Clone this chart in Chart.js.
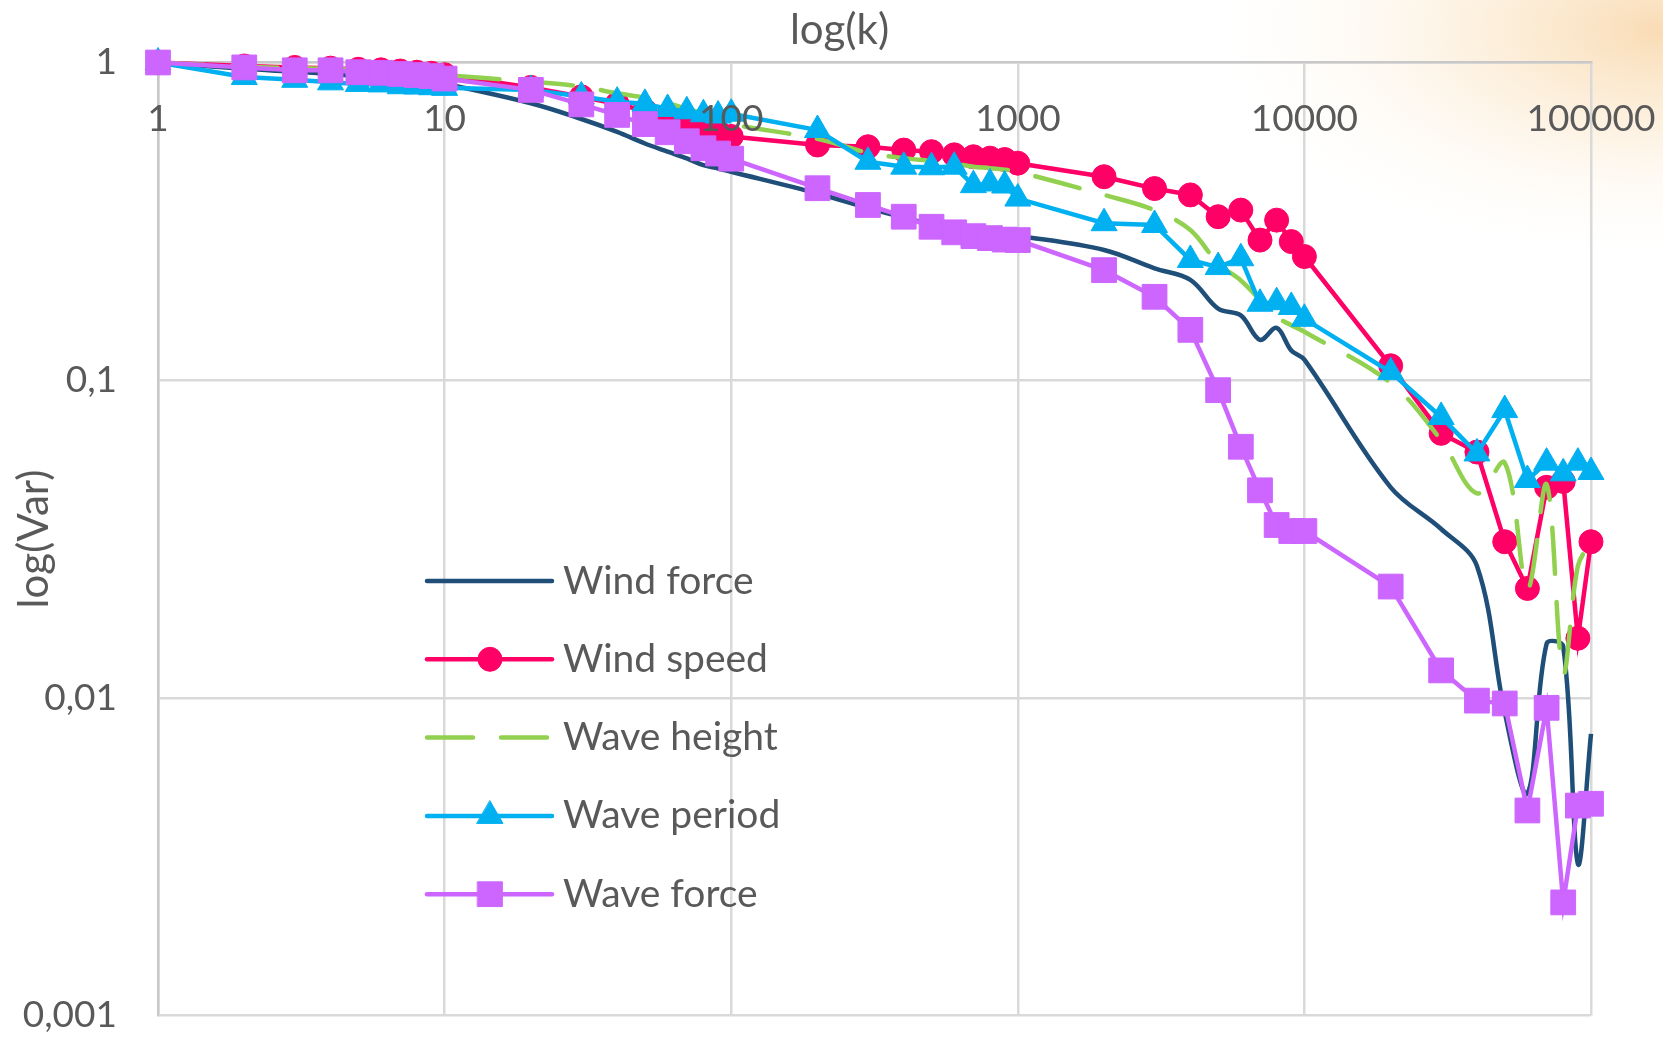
<!DOCTYPE html>
<html>
<head>
<meta charset="utf-8">
<title>log(Var) vs log(k)</title>
<script src="https://cdn.jsdelivr.net/npm/chart.js@4.4.1/dist/chart.umd.min.js"></script>
<style>
  html, body { margin: 0; padding: 0; background: #fff; }
  #wrap { position: relative; width: 1663px; height: 1037px; }
</style>
</head>
<body>
<div id="wrap"><canvas id="varChart" width="1663" height="1037"></canvas></div>
<script>
const kValues = [1, 2, 3, 4, 5, 6, 7, 8, 9, 10,
  20, 30, 40, 50, 60, 70, 80, 90, 100,
  200, 300, 400, 500, 600, 700, 800, 900, 1000,
  2000, 3000, 4000, 5000, 6000, 7000, 8000, 9000, 10000,
  20000, 30000, 40000, 50000, 60000, 70000, 80000, 90000, 100000];

const windForce = [1.0, 0.955, 0.935, 0.92, 0.905, 0.895, 0.885, 0.875, 0.865, 0.857,
  0.744, 0.664, 0.605, 0.556, 0.524, 0.499, 0.475, 0.464, 0.453,
  0.387, 0.348, 0.325, 0.31, 0.3, 0.295, 0.29, 0.288, 0.285,
  0.257, 0.225, 0.207, 0.168, 0.16, 0.134, 0.146, 0.124, 0.116,
  0.046, 0.034, 0.026, 0.009, 0.005, 0.0148, 0.0145, 0.003, 0.0077];

const windSpeed = [1.0, 0.975, 0.965, 0.96, 0.952, 0.948, 0.94, 0.932, 0.925, 0.915,
  0.835, 0.78, 0.74, 0.705, 0.675, 0.65, 0.625, 0.605, 0.585,
  0.55, 0.543, 0.53, 0.524, 0.512, 0.505, 0.5, 0.495, 0.482,
  0.437, 0.401, 0.383, 0.327, 0.343, 0.276, 0.319, 0.273, 0.245,
  0.111, 0.068, 0.0594, 0.031, 0.0221, 0.046, 0.048, 0.0154, 0.031];

const waveHeight = [1.0, 0.97, 0.96, 0.955, 0.948, 0.943, 0.937, 0.93, 0.922, 0.913,
  0.87, 0.84, 0.8, 0.775, 0.745, 0.715, 0.69, 0.665, 0.64,
  0.575, 0.52, 0.5, 0.49, 0.48, 0.47, 0.465, 0.46, 0.453,
  0.383, 0.343, 0.297, 0.233, 0.206, 0.179, 0.158, 0.149, 0.142,
  0.098, 0.0647, 0.044, 0.055, 0.022, 0.047, 0.012, 0.026, 0.031];

const wavePeriod = [1.0, 0.9, 0.882, 0.866, 0.856, 0.853, 0.842, 0.84, 0.836, 0.832,
  0.82, 0.782, 0.753, 0.741, 0.714, 0.702, 0.687, 0.681, 0.69,
  0.613, 0.487, 0.47, 0.468, 0.47, 0.411, 0.416, 0.41, 0.373,
  0.312, 0.308, 0.239, 0.227, 0.242, 0.174, 0.176, 0.17, 0.156,
  0.106, 0.0766, 0.0588, 0.0805, 0.0485, 0.055, 0.0509, 0.055, 0.0514];

const waveForce = [1.0, 0.965, 0.945, 0.945, 0.932, 0.928, 0.92, 0.913, 0.906, 0.89,
  0.82, 0.738, 0.684, 0.64, 0.603, 0.565, 0.537, 0.517, 0.498,
  0.402, 0.356, 0.327, 0.304, 0.292, 0.284, 0.28, 0.277, 0.276,
  0.222, 0.183, 0.144, 0.093, 0.0617, 0.045, 0.035, 0.0335, 0.0335,
  0.0224, 0.0122, 0.0098, 0.0096, 0.00442, 0.0093, 0.00227, 0.00458, 0.00464];

const xTicks = [1, 10, 100, 1000, 10000, 100000];
const xTickLabels = ['1', '10', '100', '1000', '10000', '100000'];
const yTicks = [0.001, 0.01, 0.1, 1];
const yTickLabels = ['0,001', '0,01', '0,1', '1'];

const FONT = 'Lato, "Open Sans", sans-serif';
const TEXT = '#595959';
const GRID = '#d9d9d9';

const toPoints = (values) => kValues.map((k, i) => ({ x: k, y: values[i] }));

// soft peach glow in the top right corner, behind everything
const backdrop = {
  id: 'backdrop',
  beforeDraw(chart) {
    const { ctx, width, height } = chart;
    ctx.save();
    ctx.fillStyle = '#ffffff';
    ctx.fillRect(0, 0, width, height);
    ctx.translate(width, 30);
    ctx.scale(1, 0.5);
    const g = ctx.createRadialGradient(0, 0, 0, 0, 0, 480);
    g.addColorStop(0, 'rgba(247,204,148,0.7)');
    g.addColorStop(0.4, 'rgba(250,224,186,0.45)');
    g.addColorStop(1, 'rgba(255,255,255,0)');
    ctx.fillStyle = g;
    ctx.fillRect(-600, -200, 700, 1000);
    ctx.restore();
  }
};

// axis labels: x labels sit just under the top axis line, y labels right-aligned left of the plot
const axisText = {
  id: 'axisText',
  afterDatasetsDraw(chart) {
    const { ctx, chartArea } = chart;
    const xs = chart.scales.x;
    const ys = chart.scales.y;
    ctx.save();
    ctx.fillStyle = TEXT;
    ctx.textBaseline = 'middle';
    ctx.font = '37px ' + FONT;
    ctx.textAlign = 'center';
    xTicks.forEach((v, i) => {
      ctx.fillText(xTickLabels[i], xs.getPixelForValue(v), chartArea.top + 57);
    });
    ctx.textAlign = 'right';
    yTicks.forEach((v, i) => {
      ctx.fillText(yTickLabels[i], chartArea.left - 41, ys.getPixelForValue(v));
    });
    ctx.textAlign = 'center';
    ctx.font = '42px ' + FONT;
    ctx.fillText('log(k)', chart.width / 2 + 8, 30);
    ctx.restore();
  }
};

const insideLegend = {
  id: 'insideLegend',
  afterDraw(chart) {
    const ctx = chart.ctx;
    const lineLeft = 427, lineRight = 552, markX = 490, textX = 563;
    const top = 581, step = 78.3;
    chart.data.datasets.forEach((ds, i) => {
      const y = top + i * step;
      ctx.save();
      ctx.strokeStyle = ds.borderColor;
      ctx.lineWidth = ds.borderWidth;
      ctx.lineCap = 'round';
      ctx.setLineDash(ds.borderDash || []);
      ctx.beginPath();
      ctx.moveTo(lineLeft, y);
      ctx.lineTo(lineRight, y);
      ctx.stroke();
      ctx.setLineDash([]);
      if (ds.pointRadius > 0) {
        ctx.fillStyle = ds.pointBackgroundColor;
        ctx.strokeStyle = ds.pointBorderColor;
        ctx.lineWidth = ds.pointBorderWidth;
        Chart.helpers.drawPoint(ctx, {
          pointStyle: ds.pointStyle,
          radius: ds.pointRadius,
          borderWidth: ds.pointBorderWidth,
          rotation: 0
        }, markX, y);
      }
      ctx.fillStyle = TEXT;
      ctx.font = '39px ' + FONT;
      ctx.textAlign = 'left';
      ctx.textBaseline = 'middle';
      ctx.fillText(ds.label, textX, y);
      ctx.restore();
    });
  }
};

function marked(label, values, color, style, radius, order) {
  return {
    label,
    data: toPoints(values),
    borderColor: color,
    backgroundColor: color,
    borderWidth: 4.5,
    pointStyle: style,
    pointRadius: radius,
    pointHoverRadius: radius,
    pointBackgroundColor: color,
    pointBorderColor: color,
    pointBorderWidth: 1,
    tension: 0,
    clip: false,
    order
  };
}

new Chart(document.getElementById('varChart'), {
  type: 'line',
  data: {
    datasets: [
      {
        label: 'Wind force',
        data: toPoints(windForce),
        borderColor: '#1f4e79',
        backgroundColor: '#1f4e79',
        borderWidth: 4.5,
        pointRadius: 0,
        tension: 0.35,
        clip: false,
        order: 5
      },
      marked('Wind speed', windSpeed, '#ff0066', 'circle', 12, 4),
      {
        label: 'Wave height',
        data: toPoints(waveHeight),
        borderColor: '#92d050',
        backgroundColor: '#92d050',
        borderWidth: 4.5,
        borderDash: [46, 28],
        borderCapStyle: 'round',
        pointRadius: 0,
        tension: 0.35,
        clip: false,
        order: 3
      },
      marked('Wave period', wavePeriod, '#00b0f0', 'triangle', 15, 2),
      marked('Wave force', waveForce, '#cc66ff', 'rect', 17.5, 1)
    ]
  },
  options: {
    responsive: false,
    devicePixelRatio: 1,
    animation: false,
    layout: { padding: { top: 62.5, right: 72, bottom: 21.5, left: 0 } },
    plugins: {
      legend: { display: false },
      title: { display: false },
      tooltip: { enabled: false }
    },
    scales: {
      x: {
        type: 'logarithmic',
        position: 'top',
        min: 1,
        max: 100000,
        afterBuildTicks: (scale) => { scale.ticks = xTicks.map((v) => ({ value: v })); },
        afterFit: (scale) => { scale.height = 0; },
        ticks: { display: false },
        grid: { color: GRID, lineWidth: 2.5, drawTicks: false },
        border: { color: '#c8c8c8', width: 2.5 }
      },
      y: {
        type: 'logarithmic',
        min: 0.001,
        max: 1,
        afterBuildTicks: (scale) => { scale.ticks = yTicks.map((v) => ({ value: v })); },
        afterFit: (scale) => { scale.width = 158; },
        ticks: { display: false },
        grid: { color: GRID, lineWidth: 2.5, drawTicks: false },
        border: { color: '#c8c8c8', width: 2.5 },
        title: {
          display: true,
          text: 'log(Var)',
          color: TEXT,
          font: { family: FONT, size: 42 },
          padding: { top: 9, bottom: 0 }
        }
      }
    }
  },
  plugins: [backdrop, axisText, insideLegend]
});
</script>
</body>
</html>
